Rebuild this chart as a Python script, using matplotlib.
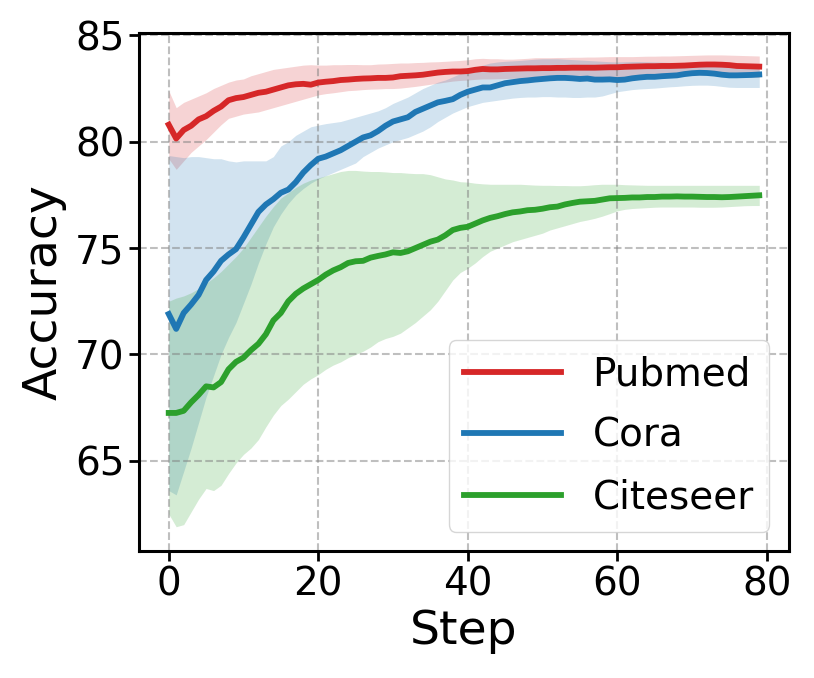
import numpy as np
import matplotlib
matplotlib.use("Agg")
import matplotlib.pyplot as plt

steps = np.arange(80)

# Pubmed
pubmed_mean = [80.8, 80.15, 80.55, 80.75, 81.05, 81.2, 81.45, 81.65, 81.95, 82.05,
               82.1, 82.2, 82.3, 82.35, 82.45, 82.55, 82.65, 82.7, 82.72, 82.68,
               82.78, 82.82, 82.85, 82.9, 82.92, 82.95, 82.97, 82.98, 83.0, 83.0,
               83.02, 83.08, 83.1, 83.12, 83.15, 83.2, 83.25, 83.28, 83.3, 83.3,
               83.32, 83.38, 83.42, 83.4, 83.4, 83.42, 83.43, 83.44, 83.45, 83.45,
               83.46, 83.46, 83.47, 83.47, 83.48, 83.48, 83.48, 83.48, 83.49, 83.5,
               83.5, 83.52, 83.53, 83.54, 83.55, 83.55, 83.56, 83.56, 83.57, 83.58,
               83.6, 83.62, 83.63, 83.63, 83.62, 83.6, 83.56, 83.55, 83.54, 83.53]
pubmed_upper = [82.4, 81.6, 81.85, 82.0, 82.15, 82.3, 82.5, 82.65, 82.8, 82.9,
                82.95, 83.1, 83.2, 83.3, 83.4, 83.45, 83.5, 83.55, 83.6, 83.62,
                83.6, 83.6, 83.62, 83.62, 83.63, 83.63, 83.62, 83.62, 83.65, 83.66,
                83.68, 83.7, 83.7, 83.72, 83.73, 83.75, 83.76, 83.78, 83.8, 83.82,
                83.85, 83.9, 83.92, 83.9, 83.9, 83.88, 83.88, 83.9, 83.92, 83.95,
                83.95, 83.95, 83.96, 83.96, 83.97, 83.97, 83.98, 83.98, 83.99, 84.0,
                84.0, 84.0, 84.0, 84.01, 84.02, 84.02, 84.03, 84.03, 84.04, 84.05,
                84.06, 84.07, 84.08, 84.08, 84.08, 84.07, 84.06, 84.05, 84.04, 84.03]
pubmed_lower = [79.2, 78.7, 79.1, 79.5, 79.8, 80.1, 80.45, 80.8, 81.1, 81.2,
                81.3, 81.35, 81.4, 81.5, 81.6, 81.7, 81.8, 81.9, 82.0, 82.1,
                82.2, 82.26, 82.3, 82.35, 82.4, 82.42, 82.45, 82.47, 82.48, 82.5,
                82.5, 82.52, 82.56, 82.6, 82.65, 82.7, 82.75, 82.8, 82.85, 82.88,
                82.9, 82.93, 82.95, 82.95, 82.96, 82.97, 82.98, 82.99, 83.0, 83.0,
                83.0, 83.0, 83.0, 83.0, 83.0, 83.0, 83.0, 83.0, 83.0, 83.0,
                83.0, 83.02, 83.04, 83.05, 83.06, 83.07, 83.08, 83.09, 83.1, 83.1,
                83.12, 83.14, 83.15, 83.16, 83.16, 83.15, 83.1, 83.06, 83.04, 83.03]

# Cora
cora_mean = [71.9, 71.2, 71.95, 72.35, 72.8, 73.5, 73.9, 74.4, 74.7, 74.95,
             75.5, 76.1, 76.7, 77.05, 77.3, 77.6, 77.75, 78.1, 78.55, 78.9,
             79.2, 79.3, 79.45, 79.6, 79.8, 80.0, 80.2, 80.3, 80.5, 80.75,
             80.95, 81.05, 81.15, 81.4, 81.55, 81.7, 81.85, 81.92, 82.0, 82.2,
             82.35, 82.45, 82.55, 82.55, 82.65, 82.75, 82.8, 82.85, 82.88, 82.92,
             82.95, 82.98, 83.0, 83.0, 82.98, 82.95, 82.97, 82.92, 82.92, 82.93,
             82.9, 82.92, 82.98, 83.02, 83.05, 83.05, 83.08, 83.1, 83.12, 83.18,
             83.22, 83.24, 83.23, 83.2, 83.15, 83.12, 83.12, 83.13, 83.14, 83.16]
cora_upper = [79.35, 79.3, 79.25, 79.3, 79.3, 79.25, 79.2, 79.2, 79.1, 79.05,
              79.1, 79.1, 79.1, 79.1, 79.3, 79.8, 80.0, 80.3, 80.5, 80.7,
              80.78, 80.85, 80.9, 80.95, 81.05, 81.15, 81.25, 81.35, 81.45, 81.6,
              81.8, 81.95, 82.1, 82.3, 82.5, 82.65, 82.8, 82.9, 83.05, 83.2,
              83.35, 83.5, 83.6, 83.7, 83.75, 83.78, 83.8, 83.82, 83.85, 83.88,
              83.9, 83.9, 83.9, 83.88, 83.86, 83.84, 83.82, 83.8, 83.78, 83.76,
              83.75, 83.76, 83.77, 83.77, 83.76, 83.75, 83.74, 83.73, 83.72, 83.7,
              83.68, 83.66, 83.64, 83.62, 83.6, 83.6, 83.6, 83.6, 83.6, 83.6]
cora_lower = [63.6, 63.4, 64.5, 65.6, 66.8, 68.0, 69.0, 70.0, 70.8, 71.5,
              72.4, 73.3, 74.3, 75.2, 76.0, 76.6, 77.1, 77.5, 77.8, 78.05,
              78.25, 78.4, 78.55, 78.7, 78.85, 79.0, 79.3, 79.5, 79.7, 79.85,
              80.0, 80.1, 80.2, 80.35, 80.5, 80.7, 80.95, 81.15, 81.35, 81.5,
              81.65, 81.75, 81.85, 81.9, 81.95, 82.0, 82.05, 82.08, 82.1, 82.1,
              82.12, 82.12, 82.1, 82.1, 82.08, 82.08, 82.1, 82.1, 82.15, 82.25,
              82.35, 82.4, 82.45, 82.48, 82.5, 82.52, 82.55, 82.58, 82.6, 82.63,
              82.65, 82.66, 82.66, 82.64, 82.6, 82.56, 82.55, 82.55, 82.55, 82.55]

# Citeseer
citeseer_mean = [67.25, 67.25, 67.35, 67.75, 68.1, 68.5, 68.45, 68.7, 69.3, 69.65,
                 69.85, 70.2, 70.5, 70.95, 71.6, 71.95, 72.5, 72.85, 73.1, 73.3,
                 73.5, 73.75, 73.95, 74.1, 74.3, 74.38, 74.4, 74.55, 74.63, 74.7,
                 74.8, 74.77, 74.85, 75.0, 75.15, 75.3, 75.4, 75.6, 75.85, 75.95,
                 76.0, 76.15, 76.3, 76.42, 76.5, 76.6, 76.68, 76.72, 76.78, 76.8,
                 76.85, 76.92, 76.95, 77.05, 77.12, 77.18, 77.2, 77.22, 77.28, 77.34,
                 77.35, 77.36, 77.38, 77.38, 77.4, 77.4, 77.42, 77.42, 77.43, 77.42,
                 77.42, 77.41, 77.4, 77.4, 77.39, 77.4, 77.42, 77.44, 77.46, 77.48]
citeseer_upper = [72.5, 72.65, 72.75, 72.9, 73.1, 73.35, 73.6, 73.9, 74.25, 74.6,
                  75.0, 75.5, 76.0, 76.5, 76.95, 77.35, 77.6, 77.85, 78.05, 78.2,
                  78.3, 78.4, 78.5, 78.6, 78.65, 78.65, 78.62, 78.6, 78.6, 78.58,
                  78.55, 78.55, 78.52, 78.5, 78.5, 78.45, 78.35, 78.25, 78.2, 78.12,
                  78.1, 78.05, 78.02, 78.0, 78.0, 78.0, 78.0, 78.0, 77.98, 77.96,
                  77.95, 77.95, 77.94, 77.94, 77.93, 77.93, 77.95, 77.98, 78.0, 78.0,
                  78.0, 77.98, 77.97, 77.96, 77.95, 77.95, 77.95, 77.95, 77.95, 77.95,
                  77.95, 77.95, 77.95, 77.95, 77.95, 77.95, 77.95, 77.95, 77.95, 77.95]
citeseer_lower = [62.5, 61.9, 62.0, 62.6, 63.2, 63.7, 63.6, 63.85, 64.4, 64.9,
                  65.3, 65.6, 66.0, 66.6, 67.15, 67.6, 67.9, 68.25, 68.6, 68.85,
                  69.05, 69.3, 69.5, 69.65, 69.85, 70.0, 70.15, 70.35, 70.6, 70.75,
                  70.85, 71.0, 71.25, 71.5, 71.8, 72.1, 72.5, 73.0, 73.5, 73.85,
                  74.05, 74.3, 74.6, 74.85, 75.0, 75.15, 75.3, 75.4, 75.5, 75.6,
                  75.7, 75.85, 75.95, 76.05, 76.15, 76.25, 76.32, 76.4, 76.5, 76.62,
                  76.75, 76.82, 76.86, 76.88, 76.9, 76.92, 76.93, 76.93, 76.93, 76.93,
                  76.93, 76.92, 76.92, 76.92, 76.93, 76.95, 76.97, 76.99, 77.0, 77.0]

series = [
    ("Pubmed", pubmed_mean, pubmed_lower, pubmed_upper, "tab:red"),
    ("Cora", cora_mean, cora_lower, cora_upper, "tab:blue"),
    ("Citeseer", citeseer_mean, citeseer_lower, citeseer_upper, "tab:green"),
]

fig = plt.figure(figsize=(8.14, 6.78), dpi=100)
ax = fig.add_axes([0.171, 0.187, 0.798, 0.764])

for name, mean, lo, hi, c in series:
    ax.plot(steps, mean, color=c, linewidth=4.2, label=name)
    ax.fill_between(steps, lo, hi, color=c, alpha=0.2, linewidth=0)

ax.set_ylim(60.75, 85.1)
ax.set_yticks([65, 70, 75, 80, 85])
ax.set_xticks([0, 20, 40, 60, 80])
ax.grid(True, linestyle="--", color="gray", alpha=0.5, linewidth=1.5)
ax.tick_params(labelsize=28, length=7, width=2)
for s in ax.spines.values():
    s.set_linewidth(2.2)

ax.set_xlabel("Step", fontsize=34, labelpad=4)
ax.set_ylabel("Accuracy", fontsize=34, labelpad=6)
ax.legend(loc="lower right", fontsize=28, handlelength=2.5, labelspacing=0.6)

fig.savefig("out.png", dpi=100)
